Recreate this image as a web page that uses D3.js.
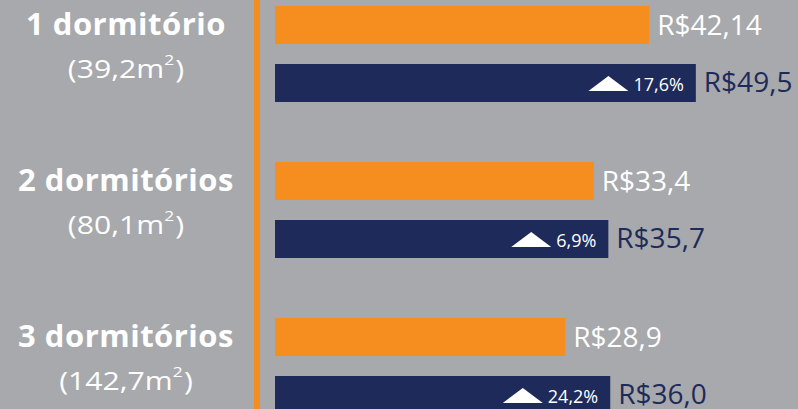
<!DOCTYPE html>
<html>
<head>
<meta charset="utf-8">
<script src="https://cdn.jsdelivr.net/npm/d3@7"></script>
<style>
  html, body { margin: 0; padding: 0; background: #a7a9ac; }
  svg { display: block; }
  text { font-family: "Open Sans", sans-serif; }
</style>
</head>
<body>
<div id="chart"></div>
<script>
// data
const categories = ["1 dormitório", "2 dormitórios", "3 dormitórios"];
const areas = ["39,2", "80,1", "142,7"];
const seriesKeys = ["anterior", "atual"];
const valuesPrev = [42.14, 33.4, 28.9];
const valuesCurr = [49.5, 35.7, 36.0];
const changes = [17.6, 6.9, 24.2];

const width = 798;
const height = 409;
const barLeft = 275;

const colors = { anterior: "#f68d1f", atual: "#1e2a5a" };

const rows = categories.map((c, i) => ({
  category: c,
  area: areas[i],
  change: changes[i],
  bars: [
    { key: "anterior", value: valuesPrev[i] },
    { key: "atual", value: valuesCurr[i] }
  ]
}));

function brl(v) {
  const s = Math.round(v * 100) % 10 !== 0 ? v.toFixed(2) : v.toFixed(1);
  return "R$" + s.replace(".", ",");
}

const svg = d3.select("#chart").append("svg")
  .attr("width", width)
  .attr("height", height);

svg.append("rect")
  .attr("width", width)
  .attr("height", height)
  .attr("fill", "#a7a9ac");

// scales
const x = d3.scaleLinear().domain([0, 50]).range([382, 699]);
const y = d3.scaleBand().domain(categories).range([6, 474]);
const yInner = d3.scaleBand().domain(seriesKeys).range([0, 96]).paddingInner(0.345);

// orange divider
svg.append("rect")
  .attr("x", 254)
  .attr("y", 0)
  .attr("width", 6)
  .attr("height", height)
  .attr("fill", colors.anterior);

const group = svg.selectAll("g.group")
  .data(rows)
  .enter().append("g")
  .attr("class", "group")
  .attr("transform", d => `translate(0,${y(d.category)})`);

// category labels
group.append("text")
  .attr("x", 126)
  .attr("y", 29)
  .attr("text-anchor", "middle")
  .attr("fill", "#fff")
  .attr("font-weight", 700)
  .attr("font-size", 31)
  .attr("letter-spacing", 0.5)
  .text(d => d.category);

const areaText = group.append("text")
  .attr("transform", "translate(126,72) scale(1.16,1)")
  .attr("text-anchor", "middle")
  .attr("fill", "#fff")
  .attr("font-size", 26);
areaText.append("tspan").text(d => "(" + d.area + "m");
areaText.append("tspan")
  .attr("font-size", 15)
  .attr("dy", -13)
  .text("2");
areaText.append("tspan")
  .attr("dx", 1)
  .attr("dy", 13)
  .text(")");

// bars
const bar = group.selectAll("g.bar")
  .data(d => d.bars.map(b => Object.assign({ change: d.change }, b)))
  .enter().append("g")
  .attr("class", "bar")
  .attr("transform", d => `translate(0,${yInner(d.key)})`);

bar.append("rect")
  .attr("x", barLeft)
  .attr("y", 0)
  .attr("width", d => x(d.value) - barLeft)
  .attr("height", yInner.bandwidth())
  .attr("fill", d => colors[d.key]);

bar.append("text")
  .attr("x", d => x(d.value) + 8)
  .attr("y", d => yInner.bandwidth() / 2 + (d.key === "anterior" ? 10 : 9))
  .attr("fill", d => d.key === "anterior" ? "#fff" : colors.atual)
  .attr("font-size", 28)
  .text(d => brl(d.value));

// change labels inside the current bars
const cur = bar.filter(d => d.key === "atual");

cur.append("text")
  .attr("class", "pct")
  .attr("x", d => x(d.value) - 12)
  .attr("y", yInner.bandwidth() / 2 + 8)
  .attr("text-anchor", "end")
  .attr("fill", "#fff")
  .attr("font-size", 18)
  .text(d => d.change.toFixed(1).replace(".", ",") + "%");

cur.each(function (d) {
  const g = d3.select(this);
  const w = g.select("text.pct").node().getComputedTextLength();
  const right = x(d.value) - 12 - w - 5;
  const base = yInner.bandwidth() / 2 + 8;
  const p = d3.path();
  p.moveTo(right - 40, base);
  p.lineTo(right, base);
  p.lineTo(right - 20, base - 15);
  p.closePath();
  g.append("path")
    .attr("d", p.toString())
    .attr("fill", "#fff");
});
</script>
</body>
</html>
